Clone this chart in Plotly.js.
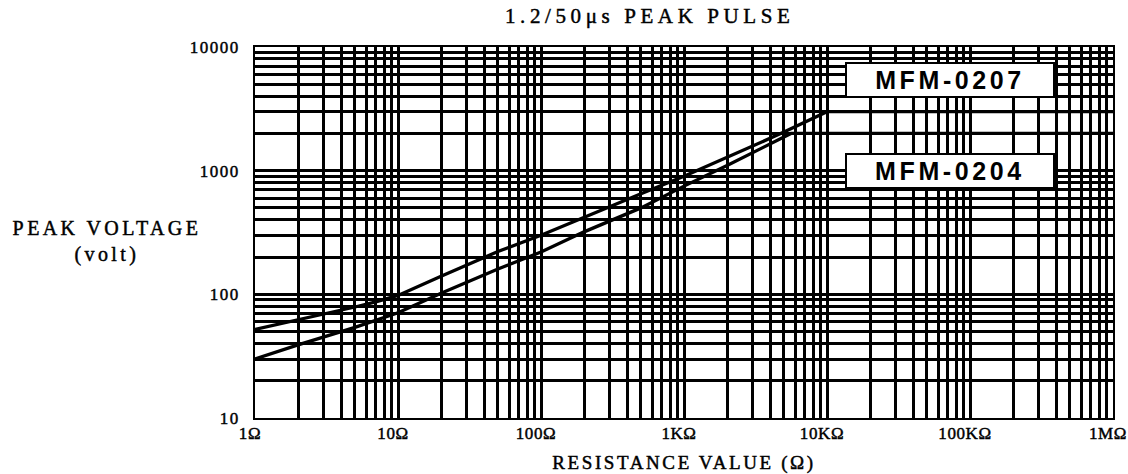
<!DOCTYPE html>
<html>
<head>
<meta charset="utf-8">
<script src="https://cdn.plot.ly/plotly-3.0.1.min.js"></script>
<style>
  html, body { margin: 0; padding: 0; background: #fff; }
  #chart { width: 1128px; height: 474px; }
  .gtitle { letter-spacing: 4.6px; }
  .g-xtitle text { letter-spacing: 2.6px; }
  .ytick text { letter-spacing: 1.5px; }
  .xtick text { letter-spacing: 0.6px; }
  .annotation[data-index="0"] text { letter-spacing: 3.4px; }
  .annotation[data-index="1"] text, .annotation[data-index="2"] text { letter-spacing: 3.6px; }
  .gtitle, .g-xtitle text, .ytick text, .xtick text, .annotation[data-index="0"] text {
    stroke: #000; stroke-width: 0.45px;
  }
</style>
</head>
<body>
<div id="chart"></div>
<script>
// ---- data ----
const chartTitle = "1.2/50μs PEAK PULSE";
const xTitle = "RESISTANCE VALUE (Ω)";
const yTitle = "PEAK VOLTAGE<br>(volt)";

const xTickVals = [1, 10, 100, 1000, 10000, 100000, 1000000];
const xTickText = ["1Ω", "10Ω", "100Ω", "1KΩ", "10KΩ", "100KΩ", "1MΩ"];
const yTickVals = [10, 100, 1000, 10000];
const yTickText = ["10", "100", "1000", "10000"];

const seriesNames = ["MFM-0207", "MFM-0204"];

const resistance0207 = [1, 2, 3, 5, 7, 10, 20, 50, 100, 200, 500, 1000, 2000, 5000, 10000, 1000000];
const voltage0207    = [52, 62, 69, 79, 87, 98, 140, 222, 300, 420, 650, 900, 1280, 2050, 3000, 3000];

const resistance0204 = [1, 2, 5, 10, 20, 50, 100, 200, 500, 1000, 2000, 5000, 5600, 1000000];
const voltage0204    = [30, 39, 54, 71, 102, 160, 220, 320, 500, 750, 1100, 1850, 2000, 2000];

// ---- chart ----
const serif = "Liberation Serif, Times New Roman, serif";
const sans = "Liberation Sans, Arial, sans-serif";

const traces = [
  { x: resistance0207, y: voltage0207, name: seriesNames[0], type: "scatter", mode: "lines",
    line: { color: "#000", width: 3.3 }, hoverinfo: "x+y+name" },
  { x: resistance0204, y: voltage0204, name: seriesNames[1], type: "scatter", mode: "lines",
    line: { color: "#000", width: 3.3 }, hoverinfo: "x+y+name" }
];

const layout = {
  width: 1128, height: 474,
  paper_bgcolor: "#fff", plot_bgcolor: "#fff",
  margin: { l: 255, r: 15, t: 47, b: 56, pad: 0 },
  showlegend: false,
  title: {
    text: chartTitle, xref: "container", yref: "container",
    x: 0.576, xanchor: "center", y: 0.968, yanchor: "middle",
    font: { family: serif, size: 21, color: "#000" }
  },
  xaxis: {
    type: "log", range: [0, 6],
    tickmode: "array", tickvals: xTickVals, ticktext: xTickText,
    ticks: "", ticklabelstandoff: -1, ticklabelshift: -5, ticklabeloverflow: "allow",
    tickfont: { family: serif, size: 17, color: "#000" },
    showgrid: true, gridcolor: "#000", gridwidth: 2.8,
    minor: { dtick: "D1", showgrid: true, gridcolor: "#000", gridwidth: 2.8, ticks: "" },
    showline: true, linecolor: "#000", linewidth: 1.5, mirror: true,
    zeroline: false, fixedrange: true,
    title: { text: xTitle, standoff: 18, font: { family: serif, size: 19, color: "#000" } }
  },
  yaxis: {
    type: "log", range: [1, 4],
    tickmode: "array", tickvals: yTickVals, ticktext: yTickText,
    ticks: "", ticklabelstandoff: 10,
    tickfont: { family: serif, size: 17, color: "#000" },
    showgrid: true, gridcolor: "#000", gridwidth: 2.8,
    minor: { dtick: "D1", showgrid: true, gridcolor: "#000", gridwidth: 2.8, ticks: "" },
    showline: true, linecolor: "#000", linewidth: 1.5, mirror: true,
    zeroline: false, fixedrange: true
  },
  annotations: [
    { text: yTitle, xref: "paper", yref: "paper", x: -0.172, y: 0.477,
      xanchor: "center", yanchor: "middle", showarrow: false, align: "center",
      font: { family: serif, size: 20, color: "#000" } },
    { text: "<b>" + seriesNames[0] + "</b>", xref: "paper", yref: "paper", x: 0.81, y: 0.91,
      xanchor: "center", yanchor: "middle", showarrow: false,
      width: 206, height: 32, bgcolor: "#fff", bordercolor: "#000", borderwidth: 2, borderpad: 0,
      font: { family: sans, size: 25, color: "#000" } },
    { text: "<b>" + seriesNames[1] + "</b>", xref: "paper", yref: "paper", x: 0.81, y: 0.667,
      xanchor: "center", yanchor: "middle", showarrow: false,
      width: 206, height: 32, bgcolor: "#fff", bordercolor: "#000", borderwidth: 2, borderpad: 0,
      font: { family: sans, size: 25, color: "#000" } }
  ]
};

Plotly.newPlot("chart", traces, layout, { displayModeBar: false });
</script>
</body>
</html>
